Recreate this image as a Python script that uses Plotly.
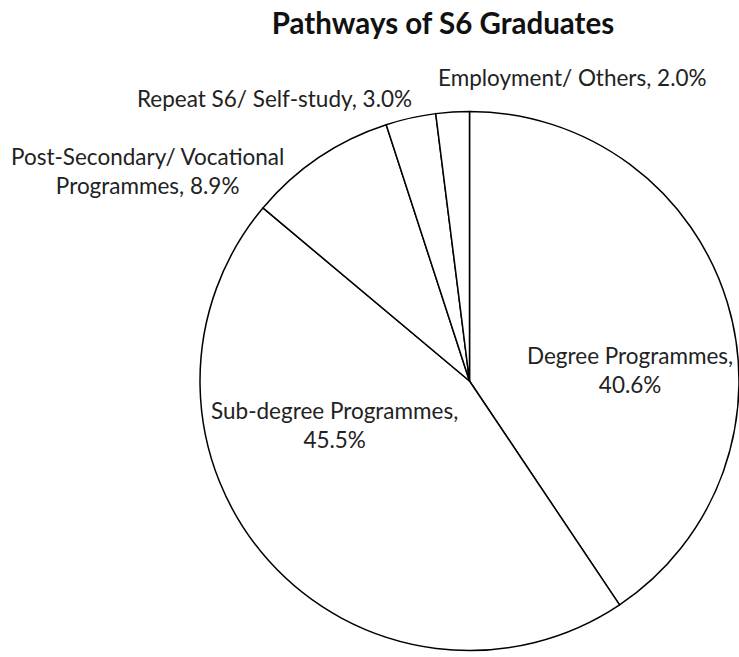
import plotly.graph_objects as go

categories = ["Degree Programmes", "Sub-degree Programmes", "Post-Secondary/ Vocational Programmes",
              "Repeat S6/ Self-study", "Employment/ Others"]
values = [40.6, 45.5, 8.9, 3.0, 2.0]
label_text = ["Degree Programmes,<br>{v:.1f}%", "Sub-degree Programmes,<br>{v:.1f}%",
              "Post-Secondary/ Vocational<br>Programmes, {v:.1f}%", "Repeat S6/ Self-study, {v:.1f}%",
              "Employment/ Others, {v:.1f}%"]

W, H = 739, 657
FONT = "Lato"

fig = go.Figure(go.Pie(
    labels=categories, values=values, sort=False, direction="clockwise", rotation=0,
    textinfo="none", hoverinfo="label+percent",
    marker=dict(colors=["white"] * 5, line=dict(color="black", width=1.5)),
    domain=dict(x=[200 / W, 1.0], y=[5 / H, 547 / H]),
    showlegend=False,
))

label_pos = [(630, 370), (334, 425), (147, 171), (274, 98), (572, 77)]
anns = []
for t, v, (px, py) in zip(label_text, values, label_pos):
    anns.append(dict(text=t.format(v=v), x=px / W, y=1 - py / H, xref="paper", yref="paper",
                     showarrow=False, xanchor="center", yanchor="middle",
                     font=dict(family=FONT, size=22.5, color="#222222")))

fig.update_layout(
    width=W, height=H, margin=dict(l=0, r=0, t=0, b=0),
    paper_bgcolor="white", plot_bgcolor="white",
    title=dict(text="<b>Pathways of S6 Graduates</b>", x=443 / W, xanchor="center",
               y=1 - 24 / H, yanchor="middle", font=dict(family=FONT, size=29.5, color="#111111")),
    annotations=anns,
)
fig.write_html("out.html", config={"displayModeBar": False},
               post_script="document.body.style.margin='0';")
